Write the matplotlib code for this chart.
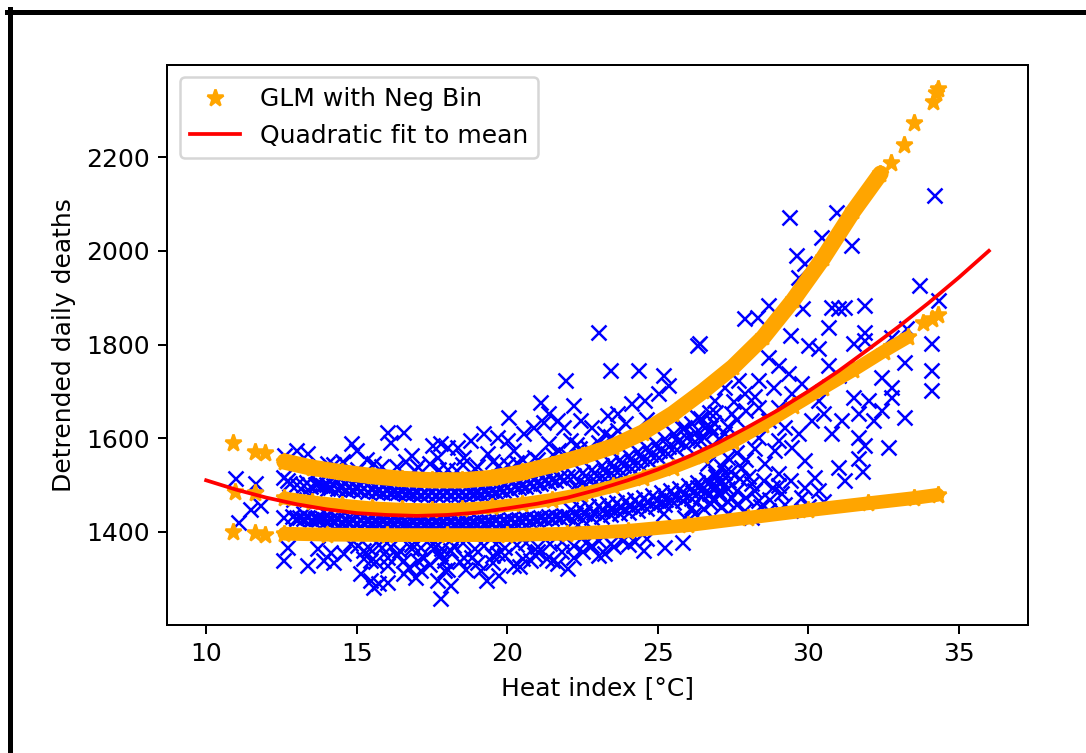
import matplotlib
matplotlib.use('Agg')
import matplotlib.pyplot as plt
from matplotlib.lines import Line2D
import numpy as np

obs_left = [(10.96, 1515), (11.63, 1505), (11.45, 1448), (11.8, 1458), (11.06, 1421),
            (12.56, 1517), (12.7, 1511), (13.22, 1500), (13.69, 1505), (14.0, 1494), (14.45, 1496),
            (12.56, 1432), (13.0, 1430), (13.22, 1441), (13.69, 1432), (14.0, 1436), (14.35, 1430),
            (12.6, 1564), (13.0, 1575), (13.36, 1568), (14.98, 1575), (14.8, 1590), (14.55, 1549),
            (12.9, 1470), (13.4, 1478), (12.75, 1505), (13.0, 1503), (13.3, 1506), (13.45, 1497)]

obs_low = [(12.56, 1340), (13.36, 1330), (13.89, 1340), (14.22, 1336), (14.12, 1357), (13.69, 1366),
           (12.7, 1368), (14.55, 1355), (14.79, 1377), (15.1, 1313), (15.45, 1298), (15.55, 1283),
           (16.0, 1293), (16.55, 1313), (17.1, 1319), (17.68, 1298), (17.78, 1258), (17.9, 1319),
           (15.45, 1340), (16.0, 1347), (16.55, 1340), (17.2, 1347), (17.9, 1340), (15.2, 1362),
           (15.8, 1368), (16.8, 1366), (17.55, 1366), (18.1, 1362), (18.1, 1287), (19.3, 1298),
           (19.7, 1308), (22.0, 1323), (16.95, 1304), (15.7, 1291), (18.6, 1320), (19.0, 1335),
           (19.5, 1350), (20.2, 1330), (20.5, 1345), (21.0, 1360), (21.5, 1340), (22.5, 1360),
           (23.0, 1350), (23.5, 1370), (24.0, 1375), (24.5, 1362), (25.2, 1368), (25.8, 1378),
           (20.77, 1340), (21.67, 1334), (22.2, 1347), (23.2, 1355), (22.77, 1372), (18.54, 1347),
           (17.78, 1355), (19.67, 1355),
           (15.0, 1372), (15.4, 1365), (15.7, 1375), (16.1, 1370), (16.4, 1362), (16.8, 1374),
           (17.1, 1368), (17.5, 1376), (17.8, 1366), (18.2, 1372), (18.5, 1378), (18.9, 1365),
           (19.2, 1372), (19.6, 1376), (19.9, 1368), (20.3, 1374), (20.6, 1378), (21.0, 1370),
           (21.4, 1376), (21.8, 1380), (22.2, 1372), (22.6, 1378), (23.0, 1382), (23.4, 1376),
           (23.8, 1383), (24.2, 1380), (24.6, 1386),
           (15.2, 1345), (15.6, 1338), (16.0, 1330), (16.3, 1350), (16.7, 1325), (17.0, 1340),
           (17.4, 1332), (17.7, 1348), (18.0, 1320), (18.4, 1338), (18.8, 1346), (19.1, 1318),
           (19.5, 1335), (19.9, 1350), (20.4, 1328), (20.9, 1352), (21.3, 1345), (21.8, 1358)]

obs_top = [(16.0, 1613), (16.55, 1613), (16.1, 1592), (15.55, 1547), (16.8, 1564), (17.5, 1586),
           (18.0, 1581), (17.78, 1590), (18.34, 1581), (18.78, 1596), (20.0, 1596), (17.68, 1560),
           (18.54, 1560), (19.34, 1568), (20.2, 1575), (19.21, 1611), (19.67, 1603), (20.54, 1611),
           (20.87, 1624), (21.87, 1624), (22.77, 1624), (21.34, 1590), (22.1, 1596), (23.2, 1611),
           (23.66, 1618), (15.3, 1555), (16.3, 1540), (17.0, 1540), (18.0, 1535), (19.0, 1540),
           (20.0, 1545), (21.0, 1555), (22.0, 1565), (22.7, 1580), (14.2, 1545), (15.0, 1535),
           (14.0, 1548), (14.5, 1552), (15.8, 1540), (16.6, 1552), (17.4, 1548), (18.5, 1545),
           (19.5, 1552), (20.5, 1556), (21.5, 1566), (22.4, 1580), (23.0, 1592),
           (16.9, 1532), (17.7, 1534), (18.3, 1533), (18.9, 1536), (19.7, 1543), (20.3, 1550),
           (20.9, 1560), (21.7, 1574), (22.3, 1588), (23.4, 1604)]

obs_high = [(23.0, 1827), (26.32, 1799), (23.43, 1746), (24.36, 1746), (21.93, 1724), (25.19, 1735),
            (25.33, 1714), (21.1, 1677), (22.2, 1671), (20.04, 1645), (21.34, 1654), (21.67, 1639),
            (21.2, 1635), (22.43, 1639), (23.33, 1650), (23.66, 1654), (24.1, 1675), (24.53, 1682),
            (25.0, 1697), (24.6, 1640), (23.9, 1632)]

# dense strip between upper and middle GLM curves
obs_core_a = [(13.6, 1503), (13.85, 1500), (14.1, 1496), (14.35, 1494), (14.6, 1492), (14.85, 1491),
              (15.1, 1490), (15.35, 1488), (15.6, 1487), (15.85, 1486), (16.1, 1485), (16.35, 1484),
              (16.6, 1483), (16.85, 1482), (17.1, 1481), (17.35, 1481), (17.6, 1480), (17.85, 1480),
              (18.1, 1480), (18.35, 1480), (18.6, 1481), (18.85, 1482), (19.1, 1483), (19.35, 1485),
              (19.6, 1487), (19.85, 1489), (20.1, 1492), (20.35, 1495), (20.6, 1498), (20.85, 1501),
              (21.1, 1504), (21.35, 1507), (21.6, 1510), (21.85, 1513),
              (13.72, 1506), (13.97, 1502), (14.22, 1499), (14.47, 1497), (14.72, 1495), (14.97, 1494),
              (15.22, 1493), (15.47, 1491), (15.72, 1490), (15.97, 1489), (16.22, 1488), (16.47, 1487),
              (16.72, 1486), (16.97, 1485), (17.22, 1485), (17.47, 1484), (17.72, 1484), (17.97, 1484),
              (18.22, 1484), (18.47, 1484), (18.72, 1485), (18.97, 1486), (19.22, 1488), (19.47, 1490),
              (19.72, 1492), (19.97, 1495), (20.22, 1498), (20.47, 1501), (20.72, 1504), (20.97, 1507),
              (21.22, 1510), (21.47, 1513), (21.72, 1516), (21.97, 1520),
              (22.2, 1522), (22.5, 1528), (22.8, 1534), (23.1, 1542), (23.4, 1549), (23.7, 1556),
              (24.0, 1564), (24.3, 1572), (24.6, 1581), (24.9, 1590), (25.2, 1600), (25.5, 1610),
              (25.8, 1621), (26.1, 1632), (26.4, 1644), (26.7, 1656),
              (22.35, 1509), (22.65, 1515), (22.95, 1521), (23.25, 1528), (23.55, 1535), (23.85, 1542),
              (24.15, 1550), (24.45, 1558), (24.75, 1566), (25.05, 1575), (25.35, 1584), (25.65, 1593),
              (25.95, 1603), (26.25, 1613), (26.55, 1624), (26.85, 1635),
              (22.3, 1496), (22.6, 1502), (22.9, 1508), (23.2, 1515), (23.5, 1521), (23.8, 1528),
              (24.1, 1536), (24.4, 1543), (24.7, 1551), (25.0, 1559), (25.3, 1568), (25.6, 1576),
              (25.9, 1585), (26.2, 1595), (26.5, 1604), (26.8, 1614)]

# dense strip between middle and lower GLM curves
obs_core_b = [(12.85, 1433), (13.1, 1432), (13.35, 1431), (13.6, 1430), (13.85, 1429), (14.1, 1428),
              (14.35, 1427), (14.6, 1426), (14.85, 1425), (15.1, 1425), (15.35, 1424), (15.6, 1424),
              (15.85, 1423), (16.1, 1423), (16.35, 1423), (16.6, 1422), (16.85, 1422), (17.1, 1422),
              (17.35, 1421), (17.6, 1421), (17.85, 1421), (18.1, 1421), (18.35, 1421), (18.6, 1422),
              (18.85, 1422), (19.1, 1423), (19.35, 1424), (19.6, 1425), (19.85, 1426), (20.1, 1427),
              (20.35, 1428), (20.6, 1429), (20.85, 1430), (21.1, 1432), (21.35, 1433), (21.6, 1434),
              (21.85, 1435),
              (12.97, 1430), (13.22, 1429), (13.47, 1428), (13.72, 1427), (13.97, 1426), (14.22, 1425),
              (14.47, 1424), (14.72, 1423), (14.97, 1422), (15.22, 1422), (15.47, 1421), (15.72, 1421),
              (15.97, 1420), (16.22, 1420), (16.47, 1420), (16.72, 1419), (16.97, 1419), (17.22, 1419),
              (17.47, 1418), (17.72, 1418), (17.97, 1418), (18.22, 1418), (18.47, 1418), (18.72, 1419),
              (18.97, 1419), (19.22, 1420), (19.47, 1421), (19.72, 1422), (19.97, 1423), (20.22, 1424),
              (20.47, 1425), (20.72, 1426), (20.97, 1428), (21.22, 1429), (21.47, 1430), (21.72, 1431),
              (21.97, 1434),
              (22.1, 1449), (22.4, 1452), (22.7, 1455), (23.0, 1458), (23.3, 1461), (23.6, 1464),
              (23.9, 1467), (24.2, 1470), (24.5, 1474), (24.8, 1479), (25.1, 1484), (25.4, 1489),
              (25.7, 1494), (26.0, 1500), (26.3, 1506), (26.6, 1512), (26.9, 1520), (27.2, 1528),
              (22.25, 1437), (22.55, 1440), (22.85, 1443), (23.15, 1446), (23.45, 1449), (23.75, 1452),
              (24.05, 1455), (24.35, 1459), (24.65, 1463), (24.95, 1467), (25.25, 1471), (25.55, 1476),
              (25.85, 1481), (26.15, 1486), (26.45, 1492), (26.75, 1498), (27.05, 1504), (27.35, 1511),
              (22.2, 1425), (22.5, 1428), (22.8, 1431), (23.1, 1434), (23.4, 1437), (23.7, 1440),
              (24.0, 1443), (24.3, 1447), (24.6, 1451), (24.9, 1455), (25.2, 1459), (25.5, 1463),
              (25.8, 1467), (26.1, 1472), (26.4, 1477), (26.7, 1482), (27.0, 1488), (27.3, 1494)]

obs_right = [(34.17, 2119), (29.35, 2072), (30.91, 2083), (30.41, 2030), (31.41, 2012), (29.58, 1991),
             (29.85, 1974), (29.65, 1944), (33.67, 1927), (34.3, 1895), (28.65, 1884), (27.85, 1857),
             (28.3, 1859), (29.8, 1878), (30.74, 1880), (31.0, 1878), (31.18, 1880), (31.84, 1884),
             (26.36, 1803), (30.64, 1837), (31.84, 1827), (29.41, 1820), (29.98, 1799), (30.31, 1793),
             (31.5, 1803), (31.84, 1810), (32.74, 1816), (33.24, 1835), (34.07, 1803), (34.07, 1746),
             (34.07, 1703), (33.17, 1763), (32.41, 1731), (32.74, 1710), (28.65, 1773), (28.98, 1756),
             (29.32, 1739), (30.64, 1756), (30.98, 1735), (27.65, 1724), (28.32, 1724), (28.82, 1709),
             (31.5, 1688), (31.97, 1682), (32.41, 1660), (32.74, 1688), (33.17, 1645), (31.64, 1654),
             (32.14, 1639), (31.08, 1639), (30.5, 1654), (30.74, 1611), (31.64, 1603), (31.84, 1586),
             (32.64, 1581), (31.64, 1558), (30.98, 1539), (30.18, 1517), (29.85, 1554), (29.42, 1581),
             (29.65, 1611), (28.98, 1596), (30.08, 1639), (30.31, 1682), (29.42, 1697), (29.75, 1718),
             (28.98, 1667), (28.32, 1667), (27.85, 1697), (27.19, 1709), (26.86, 1682), (27.42, 1654),
             (28.65, 1639), (29.18, 1624), (28.32, 1603), (28.85, 1575), (28.52, 1547), (28.98, 1526),
             (29.41, 1511), (29.85, 1496), (30.31, 1490), (29.08, 1483), (27.75, 1539), (28.09, 1505),
             (27.42, 1475), (28.32, 1468), (27.85, 1447), (26.75, 1462), (26.32, 1496), (27.09, 1511),
             (26.65, 1547), (26.42, 1596), (26.75, 1624), (27.19, 1611), (28.65, 1447), (29.41, 1447),
             (29.75, 1475), (27.1, 1455), (27.6, 1490), (28.0, 1520), (26.9, 1500), (28.8, 1495),
             (30.5, 1465), (31.2, 1510), (31.8, 1530), (30.0, 1455), (27.3, 1440), (28.1, 1432),
             (29.2, 1460), (25.86, 1624), (26.32, 1645), (25.66, 1596), (25.43, 1468), (26.09, 1453),
             (25.86, 1432), (26.52, 1496), (25.19, 1440),
             (26.2, 1440), (26.5, 1450), (26.8, 1470), (27.0, 1480), (27.3, 1465), (27.6, 1460),
             (27.9, 1475), (28.2, 1490), (28.5, 1510), (27.7, 1515), (27.4, 1530), (27.1, 1540),
             (26.9, 1525), (28.4, 1455), (28.7, 1470), (29.0, 1500), (27.9, 1555), (28.2, 1580),
             (27.6, 1570), (27.3, 1560), (27.0, 1600), (27.3, 1625), (27.6, 1640), (27.9, 1660),
             (28.2, 1690), (27.5, 1680), (26.9, 1655)]

# GLM (negative binomial) predictions: three bands of stars
glm_hi_x = [12.6, 13.5, 14.5, 15.5, 16.5, 17.5, 18.5, 19.5, 20.5, 21.5, 22.5, 23.5, 24.5, 25.5,
            26.5, 27.5, 28.5, 29.5, 30.5, 31.5, 32.4]
glm_hi_y = [1550, 1537, 1527, 1519, 1513, 1510, 1510, 1515, 1527, 1543, 1561, 1582, 1612, 1652,
            1700, 1752, 1815, 1895, 1985, 2085, 2165]
glm_hi_sparse_x = [10.9, 11.63, 11.96, 32.74, 33.17, 33.5, 34.15, 34.24, 34.3]
glm_hi_sparse_y = [1590, 1571, 1568, 2187, 2226, 2273, 2318, 2337, 2345]

glm_mid_x = [12.6, 13.5, 14.5, 15.5, 16.5, 17.5, 18.5, 19.5, 20.5, 21.5, 22.5, 23.5, 24.5, 25.5,
             26.5, 27.5, 28.5, 29.5, 30.5, 31.5, 32.5, 33.3]
glm_mid_y = [1472, 1464, 1457, 1451, 1448, 1447, 1448, 1453, 1460, 1469, 1481, 1497, 1515, 1537,
             1562, 1592, 1628, 1668, 1707, 1745, 1785, 1815]
glm_mid_sparse_x = [10.96, 11.63, 33.8, 34.1, 34.3]
glm_mid_sparse_y = [1486, 1483, 1845, 1855, 1862]

glm_lo_x = [12.6, 14.0, 16.0, 18.0, 20.0, 22.0, 24.0, 26.0, 28.0, 30.0, 32.0, 33.5, 34.3]
glm_lo_y = [1396, 1394, 1393, 1393, 1393, 1396, 1402, 1414, 1430, 1446, 1461, 1472, 1479]
glm_lo_sparse_x = [10.9, 11.63, 11.96]
glm_lo_sparse_y = [1400, 1398, 1394]

# quadratic fit to the mean
fit_x = [10, 11, 12, 13, 14, 15, 16, 17, 18, 19, 20, 21, 22, 23, 24, 25, 26, 27, 28, 29, 30,
         31, 32, 33, 34, 35, 36]
fit_y = [1510, 1490, 1473, 1459, 1448, 1440, 1436, 1434, 1436, 1441, 1450, 1460, 1473, 1490,
         1510, 1533, 1560, 1590, 1624, 1660, 1700, 1743, 1790, 1838, 1889, 1943, 2000]


obs = np.array(obs_left + obs_low + obs_top + obs_high + obs_core_a + obs_core_b + obs_right)

fig = plt.figure(figsize=(1086 / 180, 753 / 180), dpi=180)
ax = fig.add_axes([0.1538, 0.170, 0.7928, 0.7437])

ax.plot(obs[:, 0], obs[:, 1], 'bx', ms=6, mew=1.0, zorder=1)

# bands of stars
for bx, by, lw in [(glm_hi_x, glm_hi_y, 6.5), (glm_mid_x, glm_mid_y, 5.2), (glm_lo_x, glm_lo_y, 5.5)]:
    ax.plot(bx, by, '-', color='orange', lw=lw, solid_capstyle='round', zorder=2)
    ax.plot(bx, by, '*', color='orange', ms=7, zorder=2)

ax.plot(glm_hi_sparse_x, glm_hi_sparse_y, '*', color='orange', ms=7, zorder=2,
        label='GLM with Neg Bin')
ax.plot(glm_mid_sparse_x, glm_mid_sparse_y, '*', color='orange', ms=7, zorder=2)
ax.plot(glm_lo_sparse_x, glm_lo_sparse_y, '*', color='orange', ms=7, zorder=2)

ax.plot(fit_x, fit_y, 'r-', lw=1.5, zorder=3, label='Quadratic fit to mean')

ax.set_xlim(8.7, 37.3)
ax.set_ylim(1201, 2397)
ax.set_xticks([10, 15, 20, 25, 30, 35])
ax.set_yticks([1400, 1600, 1800, 2000, 2200])
ax.set_xlabel('Heat index [°C]')
ax.set_ylabel('Detrended daily deaths')
ax.legend(loc='upper left')

# black screenshot frame on top and left
fig.add_artist(Line2D([7 / 1086, 1], [1 - 11.5 / 753, 1 - 11.5 / 753], color='black', lw=2,
                      transform=fig.transFigure))
fig.add_artist(Line2D([9.5 / 1086, 9.5 / 1086], [0, 1 - 9 / 753], color='black', lw=2,
                      transform=fig.transFigure))

fig.savefig('out.png', dpi=180)
